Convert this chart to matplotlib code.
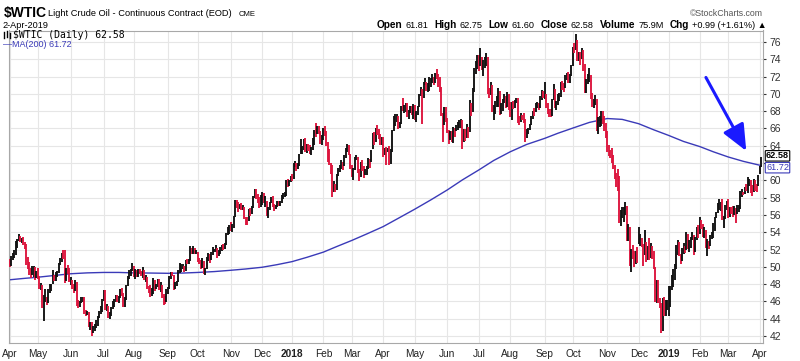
import numpy as np
import matplotlib
matplotlib.use("Agg")
import matplotlib.pyplot as plt
from matplotlib.lines import Line2D

plt.rcParams['font.family'] = ['Liberation Sans', 'DejaVu Sans']

# x axis: one label per month, trading days in each month
month_labels = ['Apr', 'May', 'Jun', 'Jul', 'Aug', 'Sep', 'Oct', 'Nov', 'Dec',
                '2018', 'Feb', 'Mar', 'Apr', 'May', 'Jun', 'Jul', 'Aug', 'Sep', 'Oct', 'Nov', 'Dec',
                '2019', 'Feb', 'Mar', 'Apr']
days_per_month = [19, 22, 22, 20, 23, 20, 22, 21, 20,
                  21, 19, 21, 21, 22, 21, 21, 23, 19, 23, 21, 20,
                  21, 19, 21, 2]

prior_close = 50.60  # 31-Mar-2017

# daily closes / highs / lows, one line per month
close_2017 = [
    50.24, 51.03, 51.15, 51.70, 52.24, 53.08, 53.40, 53.11, 53.18, 52.65, 52.41, 50.44, 50.27, 49.62, 49.23, 49.56, 49.62, 48.97, 49.33,
    48.84, 47.66, 47.82, 45.52, 46.22, 46.43, 45.88, 47.33, 47.83, 47.84, 48.85, 48.66, 49.07, 49.35, 50.33, 50.73, 51.47, 51.36, 48.90, 49.80, 49.66, 48.32,
    48.36, 47.66, 47.40, 48.19, 45.72, 45.64, 45.83, 46.08, 46.46, 44.73, 44.46, 44.74, 43.20, 43.23, 42.53, 42.74, 43.01, 43.38, 44.24, 44.74, 44.93, 46.04,
    47.07, 45.13, 45.52, 44.23, 44.40, 45.04, 45.49, 46.08, 46.54, 46.02, 46.40, 47.12, 46.79, 45.77, 46.34, 47.89, 48.75, 49.04, 49.71, 50.17,
    49.16, 49.59, 49.03, 49.58, 49.39, 49.17, 49.56, 48.59, 48.82, 47.59, 47.55, 46.78, 47.09, 48.51, 47.37, 47.64, 48.41, 47.43, 47.87, 46.57, 46.44, 45.96, 47.23,
    47.29, 48.66, 49.16, 49.09, 47.48, 48.07, 48.23, 49.30, 49.89, 49.89, 49.91, 49.48, 50.69, 50.55, 50.66, 52.22, 51.88, 52.14, 51.56, 51.67,
    50.58, 50.42, 49.98, 50.79, 49.29, 49.58, 50.92, 51.30, 50.60, 51.45, 51.87, 51.88, 52.04, 51.29, 51.47, 51.90, 52.47, 52.18, 52.64, 53.90, 54.15, 54.38,
    54.30, 54.54, 55.64, 57.35, 57.20, 56.81, 57.17, 56.74, 56.76, 55.70, 55.33, 55.14, 56.55, 56.09, 56.83, 58.02, 58.95, 58.11, 57.99, 57.30, 57.40,
    58.36, 57.47, 57.62, 55.96, 56.69, 57.36, 57.99, 57.14, 56.60, 57.04, 57.30, 57.16, 57.46, 58.09, 58.36, 58.47, 59.97, 59.64, 59.84, 60.42,
]
high_2017 = [
    50.85, 51.20, 51.60, 51.95, 52.94, 53.24, 53.76, 53.59, 53.36, 53.49, 52.88, 52.59, 51.12, 50.54, 49.87, 50.07, 50.14, 49.95, 49.57,
    49.87, 48.96, 48.13, 47.90, 46.71, 47.42, 46.53, 47.49, 48.06, 48.06, 49.66, 49.04, 49.45, 49.55, 50.44, 50.99, 51.57, 51.95, 52.00, 49.87, 50.17, 49.86,
    48.88, 48.51, 48.01, 48.51, 48.29, 46.16, 46.10, 46.48, 46.55, 46.53, 45.06, 44.93, 44.79, 43.60, 43.59, 43.12, 43.33, 43.81, 44.35, 44.89, 45.45, 46.26,
    47.32, 47.37, 45.74, 45.47, 44.72, 45.38, 46.03, 46.26, 46.72, 46.78, 46.60, 47.40, 47.55, 46.96, 46.50, 47.94, 48.99, 49.65, 49.80, 50.43,
    50.05, 49.73, 49.66, 49.75, 49.76, 49.49, 49.98, 49.66, 49.04, 48.85, 47.80, 47.86, 47.50, 48.70, 48.50, 48.00, 48.59, 48.62, 48.20, 47.93, 46.81, 46.60, 47.39,
    47.64, 48.89, 49.42, 49.42, 49.11, 48.28, 48.39, 49.61, 50.45, 50.28, 50.30, 50.08, 50.74, 50.96, 50.88, 52.43, 52.18, 52.36, 52.23, 51.98,
    51.76, 50.99, 50.81, 51.04, 50.66, 49.91, 51.18, 51.59, 51.52, 51.67, 52.28, 52.04, 52.47, 52.16, 51.90, 52.24, 52.58, 52.69, 52.74, 53.94, 54.55, 54.87,
    55.22, 54.90, 55.87, 57.69, 57.69, 57.44, 57.30, 57.34, 57.18, 56.92, 55.75, 55.78, 56.72, 56.75, 57.07, 58.16, 59.05, 58.97, 58.39, 58.09, 58.25,
    58.71, 58.59, 58.19, 57.62, 56.87, 57.50, 58.13, 58.23, 57.26, 57.17, 57.60, 57.58, 57.61, 58.25, 58.52, 58.60, 60.08, 60.13, 60.07, 60.51,
]
low_2017 = [
    49.98, 50.04, 50.74, 51.06, 51.36, 52.18, 52.96, 52.82, 52.71, 52.49, 52.05, 50.25, 49.73, 49.02, 48.76, 49.11, 48.84, 48.50, 48.67,
    48.63, 47.45, 47.33, 45.28, 43.76, 45.90, 45.56, 45.87, 47.00, 47.17, 48.00, 48.40, 48.40, 48.85, 49.26, 50.18, 50.61, 50.91, 48.18, 48.33, 49.15, 48.23,
    47.87, 47.42, 46.98, 47.19, 45.44, 45.20, 45.35, 45.77, 45.88, 44.53, 44.36, 44.43, 43.01, 42.75, 42.05, 42.40, 42.62, 42.91, 43.17, 44.06, 44.53, 44.78,
    46.00, 44.98, 44.87, 44.04, 43.99, 44.34, 45.15, 45.36, 45.92, 45.96, 45.81, 46.43, 46.57, 45.40, 45.41, 46.15, 47.81, 48.63, 48.91, 49.50,
    48.88, 48.62, 48.86, 48.83, 49.12, 48.96, 48.67, 48.49, 48.23, 47.38, 46.97, 46.51, 46.58, 46.89, 47.25, 47.38, 47.61, 47.30, 47.08, 46.34, 45.58, 45.74, 45.95,
    46.88, 47.46, 48.60, 48.91, 47.31, 47.43, 47.75, 48.22, 49.31, 49.42, 49.80, 49.42, 49.46, 50.34, 50.32, 50.65, 51.53, 51.50, 51.46, 51.50,
    50.53, 50.27, 49.75, 49.89, 49.21, 49.11, 49.70, 50.71, 50.39, 50.76, 51.34, 51.68, 51.67, 51.07, 51.30, 51.47, 51.82, 51.91, 52.01, 52.58, 53.71, 53.80,
    54.16, 54.03, 54.45, 55.71, 56.76, 56.35, 56.66, 56.52, 56.54, 55.57, 54.85, 54.82, 55.29, 55.91, 56.16, 56.82, 57.91, 57.85, 57.34, 56.75, 56.88,
    57.15, 57.33, 56.93, 55.83, 55.70, 56.62, 57.33, 56.93, 56.45, 56.66, 56.97, 57.00, 56.98, 57.38, 57.90, 58.11, 58.19, 59.26, 59.37, 59.81,
]

close_2018 = [
    60.37, 61.63, 62.01, 61.44, 61.73, 62.96, 63.57, 63.80, 64.30, 63.73, 63.97, 63.95, 63.37, 63.57, 64.47, 65.61, 65.51, 66.14, 65.56, 64.50, 64.73,
    65.80, 65.45, 64.15, 63.39, 61.79, 61.15, 59.20, 59.29, 59.19, 60.60, 61.34, 61.68, 61.90, 61.68, 62.77, 63.55, 63.91, 63.01, 61.64,
    60.99, 61.25, 62.57, 62.60, 61.15, 60.12, 62.04, 61.36, 60.71, 60.96, 61.19, 62.34, 62.06, 63.40, 65.17, 64.30, 65.88, 65.55, 65.25, 64.38, 64.94,
    63.01, 63.51, 63.37, 63.54, 62.06, 63.42, 65.51, 66.82, 67.07, 67.39, 66.22, 66.52, 68.47, 68.29, 68.38, 68.64, 67.70, 68.05, 68.19, 68.10, 68.57,
    67.25, 67.93, 68.43, 69.72, 70.73, 69.06, 71.14, 71.36, 70.70, 70.96, 71.31, 71.49, 71.49, 71.28, 72.35, 72.13, 71.84, 70.71, 67.88, 66.73, 68.21, 67.04,
    65.81, 64.75, 65.52, 64.73, 65.95, 65.74, 66.10, 66.36, 66.64, 66.89, 65.06, 65.85, 65.07, 66.22, 65.54, 68.58, 68.08, 70.53, 72.76, 73.45, 74.15,
    73.94, 74.14, 72.94, 73.80, 73.85, 74.11, 70.38, 70.33, 71.01, 68.06, 68.08, 68.76, 69.46, 70.46, 67.89, 68.52, 69.30, 69.61, 68.69, 70.13, 68.76,
    67.66, 68.96, 68.49, 69.01, 69.17, 66.94, 66.81, 67.63, 67.20, 67.04, 65.01, 65.46, 65.91, 66.43, 67.35, 67.86, 67.83, 68.72, 68.87, 68.53, 69.51, 70.25, 69.80,
    69.87, 68.72, 67.77, 67.75, 67.54, 69.25, 70.37, 68.59, 68.99, 69.85, 69.85, 71.12, 70.80, 70.78, 72.08, 72.28, 71.57, 72.12, 73.25,
    75.30, 75.23, 76.41, 74.33, 74.34, 74.29, 74.96, 73.17, 70.97, 71.34, 71.78, 72.92, 69.75, 68.65, 69.12, 69.17, 66.43, 66.82, 67.33, 67.59, 67.04, 66.18, 65.31,
    63.69, 63.14, 63.10, 62.21, 61.67, 60.67, 60.19, 59.93, 55.69, 56.25, 56.46, 56.46, 57.20, 53.43, 54.63, 50.42, 51.63, 51.56, 50.29, 51.45, 50.93,
    52.95, 53.25, 52.89, 51.49, 52.61, 51.00, 51.65, 51.15, 52.58, 51.20, 49.88, 46.24, 47.20, 45.88, 45.59, 42.53, 46.22, 44.61, 45.33, 45.41,
]
high_2018 = [
    60.74, 61.95, 62.21, 62.04, 61.97, 63.08, 64.77, 64.00, 64.77, 64.89, 64.24, 64.22, 64.09, 63.82, 64.85, 65.83, 66.66, 66.31, 66.29, 65.65, 65.19,
    66.10, 66.30, 65.72, 64.46, 63.68, 61.96, 61.79, 59.95, 59.61, 60.75, 61.44, 61.75, 62.38, 62.13, 62.93, 63.73, 64.25, 64.09, 63.10,
    61.80, 61.43, 62.69, 62.94, 62.65, 61.30, 62.15, 62.33, 61.64, 61.32, 61.69, 62.53, 62.43, 63.54, 65.52, 65.54, 66.00, 66.45, 65.93, 65.34, 65.03,
    65.03, 63.73, 63.83, 63.79, 63.98, 63.64, 65.83, 67.45, 67.65, 67.70, 67.39, 66.70, 68.64, 69.56, 68.68, 68.98, 68.98, 68.14, 68.55, 68.63, 68.78,
    68.72, 68.07, 68.61, 69.97, 70.84, 70.59, 71.36, 71.89, 71.43, 71.21, 71.93, 71.84, 72.30, 71.95, 72.47, 72.83, 72.34, 71.91, 70.81, 67.78, 68.43, 68.47,
    67.26, 65.82, 65.76, 65.75, 66.18, 66.03, 66.43, 66.76, 67.00, 67.09, 67.03, 65.98, 65.92, 66.47, 66.15, 69.30, 68.91, 70.66, 72.96, 73.79, 74.46,
    74.50, 75.27, 74.22, 73.90, 74.21, 74.70, 74.25, 70.73, 71.34, 71.02, 68.76, 69.19, 69.73, 70.72, 70.35, 68.99, 69.40, 69.98, 69.81, 70.24, 70.00,
    69.07, 69.10, 69.18, 69.35, 69.49, 69.50, 67.40, 67.83, 67.58, 67.74, 67.12, 65.92, 66.09, 66.54, 67.46, 67.98, 68.39, 68.99, 69.10, 68.95, 69.72, 70.47, 70.29,
    71.40, 70.04, 68.99, 68.27, 68.25, 69.42, 71.10, 70.55, 69.20, 69.96, 70.12, 71.37, 71.46, 71.25, 72.23, 72.45, 72.56, 72.25, 73.36,
    75.41, 75.91, 76.90, 76.21, 74.80, 74.86, 75.35, 75.05, 73.49, 71.77, 72.26, 72.99, 72.21, 70.09, 69.36, 69.85, 69.42, 67.27, 67.46, 68.02, 68.07, 67.45, 66.66,
    65.66, 64.08, 63.50, 63.71, 62.91, 61.76, 60.87, 61.28, 60.48, 56.62, 56.92, 56.94, 57.50, 57.02, 55.00, 54.55, 52.07, 52.48, 51.79, 51.78, 52.28,
    54.55, 53.80, 53.37, 52.68, 54.22, 52.90, 52.43, 53.28, 52.79, 52.43, 51.83, 50.00, 48.53, 48.49, 46.39, 45.79, 46.38, 46.55, 46.22, 46.20,
]
low_2018 = [
    59.96, 60.21, 61.59, 61.11, 61.37, 61.63, 62.99, 63.02, 63.51, 63.25, 63.21, 63.34, 63.09, 62.96, 63.54, 64.09, 65.04, 65.38, 65.37, 64.16, 64.06,
    64.64, 65.13, 63.93, 62.11, 61.73, 60.76, 58.07, 58.69, 58.67, 58.93, 60.53, 61.01, 61.27, 61.20, 61.62, 62.62, 63.30, 62.88, 61.36,
    60.40, 60.08, 61.16, 62.30, 60.83, 59.95, 60.43, 61.13, 60.25, 60.66, 60.67, 61.35, 61.38, 62.12, 63.64, 64.11, 64.41, 65.21, 64.82, 64.14, 64.13,
    62.74, 62.89, 61.83, 63.24, 61.81, 61.94, 63.32, 65.65, 66.32, 66.74, 65.98, 66.01, 66.57, 68.03, 67.74, 67.95, 67.35, 67.07, 67.81, 67.59, 67.15,
    67.03, 66.79, 67.58, 68.44, 69.75, 66.46, 69.57, 70.97, 70.35, 70.23, 70.30, 70.76, 71.22, 71.05, 71.25, 71.69, 70.80, 70.19, 67.48, 64.43, 66.41, 66.71,
    65.53, 64.22, 64.65, 64.41, 64.37, 65.07, 65.72, 65.77, 66.03, 66.08, 63.59, 64.39, 64.55, 64.93, 64.86, 65.61, 67.40, 67.92, 70.20, 72.28, 72.82,
    72.61, 73.28, 72.72, 72.06, 72.94, 73.27, 69.97, 69.49, 69.83, 67.91, 67.03, 67.70, 68.45, 68.47, 67.57, 67.71, 67.97, 68.89, 68.40, 68.52, 68.15,
    67.30, 67.03, 68.20, 68.36, 68.98, 66.68, 66.40, 66.71, 67.02, 66.64, 64.43, 64.85, 65.37, 65.77, 66.36, 67.09, 67.43, 67.85, 68.39, 68.11, 68.40, 69.26, 69.54,
    69.45, 68.36, 67.72, 67.28, 67.30, 67.48, 69.24, 68.32, 68.15, 68.73, 69.16, 69.66, 70.49, 70.20, 70.70, 71.64, 71.28, 71.23, 72.03,
    73.19, 74.77, 75.11, 73.78, 73.85, 73.34, 74.03, 72.59, 70.13, 70.12, 71.13, 71.37, 69.46, 68.47, 68.32, 68.72, 65.74, 65.33, 66.16, 66.30, 66.54, 65.71, 64.85,
    63.27, 62.80, 62.55, 61.95, 61.26, 60.20, 59.26, 58.81, 55.06, 54.75, 55.65, 55.24, 56.03, 52.94, 53.03, 50.15, 49.41, 50.94, 50.03, 50.28, 50.47,
    52.61, 52.37, 52.34, 50.08, 51.35, 50.60, 50.78, 50.83, 51.00, 50.94, 49.71, 45.93, 45.82, 45.79, 45.19, 42.36, 42.55, 44.35, 44.37, 44.95,
]

close_2019 = [
    46.54, 47.09, 47.96, 48.52, 49.78, 52.36, 52.59, 51.59, 50.51, 52.11, 52.31, 52.07, 53.80, 52.57, 52.62, 53.13, 53.69, 51.99, 53.31, 54.23, 53.79,
    55.26, 54.56, 53.66, 54.01, 52.64, 52.72, 52.41, 53.10, 53.90, 54.41, 55.59, 56.09, 56.92, 56.96, 57.26, 55.48, 55.50, 56.94, 57.22,
    55.80, 56.59, 56.56, 56.22, 56.66, 56.07, 56.79, 56.87, 58.26, 58.61, 58.52, 59.09, 59.03, 59.83, 59.98, 59.04, 58.82, 59.94, 59.41, 59.30, 60.14,
    61.59, 62.58,
]
high_2019 = [
    47.78, 47.73, 49.03, 49.78, 50.31, 52.51, 53.08, 52.85, 51.51, 52.21, 52.75, 52.45, 54.00, 53.83, 53.08, 53.40, 54.02, 53.72, 53.48, 54.56, 54.79,
    55.75, 55.46, 54.94, 54.56, 54.26, 53.22, 53.02, 53.72, 54.05, 55.05, 55.79, 56.33, 57.41, 57.81, 57.55, 57.88, 55.83, 57.10, 57.65,
    57.88, 56.93, 56.96, 57.09, 57.01, 56.86, 57.19, 57.16, 58.74, 58.95, 58.69, 59.23, 59.57, 60.39, 60.13, 60.05, 59.52, 60.12, 60.05, 59.58, 60.66,
    61.68, 62.75,
]
low_2019 = [
    44.35, 45.35, 47.31, 47.62, 48.53, 49.75, 51.31, 51.27, 50.29, 50.64, 51.52, 51.58, 51.97, 52.06, 51.71, 52.18, 53.05, 51.33, 51.76, 53.13, 53.38,
    53.75, 54.33, 53.44, 53.31, 52.17, 51.23, 52.01, 52.38, 53.25, 53.38, 54.10, 55.61, 56.25, 56.57, 56.49, 55.38, 54.52, 55.51, 56.54,
    55.59, 55.73, 56.11, 55.73, 56.05, 55.07, 56.08, 56.38, 56.71, 58.09, 58.30, 58.37, 58.80, 58.58, 59.40, 58.56, 58.16, 58.63, 58.81, 58.60, 59.31,
    60.71, 61.60,
]

# 200-day moving average: (month start, mid-month) pairs, Apr-2017 .. Mar-2019
ma200_half_month = [
    48.5, 48.65, 48.8, 49.0, 49.2, 49.3, 49.35, 49.35, 49.3, 49.28, 49.25, 49.28,
    49.35, 49.45, 49.6, 49.75, 49.95, 50.25,
    50.6, 51.1, 51.7, 52.35, 53.05, 53.8, 54.65, 55.6, 56.65, 57.75, 58.9, 60.05,
    61.2, 62.3, 63.3, 64.15, 64.85, 65.45, 66.05, 66.7, 67.15, 67.05, 66.55, 65.85,
    65.2, 64.5, 63.9, 63.3, 62.7, 62.2,
]
ma200_apr1 = 61.75
ma200_last = 61.72

header_items = [('Open', '61.81'), ('High', '62.75'), ('Low', '61.60'), ('Close', '62.58'),
                ('Volume', '75.9M'), ('Chg', '+0.99 (+1.61%) \u25b2')]

W, H = 800, 361
BLUE = '#3a3ab8'


def fx(px):
    return px / W


def fy(py):
    return 1 - py / H


close = np.array(close_2017 + close_2018 + close_2019)
high = np.array(high_2017 + high_2018 + high_2019)
low = np.array(low_2017 + low_2018 + low_2019)
lens = [len(a) for a in (close_2017, high_2017, low_2017, close_2018, high_2018, low_2018,
                         close_2019, high_2019, low_2019)]
assert len(close) == len(high) == len(low) == sum(days_per_month), lens

x = np.arange(len(close))
prev = np.concatenate([[prior_close], close[:-1]])
bar_colors = np.where(close < prev, '#dc143c', '#111111')
month_starts = np.concatenate([[0], np.cumsum(days_per_month)[:-1]])

fig = plt.figure(figsize=(8, 3.61), dpi=100)
left, right, top, bottom = 9, 763, 30.5, 343
ax = fig.add_axes([fx(left), fy(bottom), fx(right - left), (bottom - top) / H])
ax.set_xlim(-0.4, 504.2)
ax.set_ylim(41.19, 77.33)

ax.set_xticks(month_starts)
ax.set_xticklabels(month_labels)
for lab in ax.get_xticklabels():
    if lab.get_text().isdigit():
        lab.set_fontweight('bold')
        lab.set_fontsize(8)
yt = np.arange(42, 77, 2)
ax.set_yticks(yt)
ax.set_yticklabels(['' if v == 62 else str(v) for v in yt])
ax.yaxis.tick_right()
ax.tick_params(axis='x', labelsize=7.3, length=0, pad=4, colors='#222222')
ax.tick_params(axis='y', labelsize=7.5, length=2, pad=2.5, colors='#333333')
ax.grid(True, color='#e6e6e6', lw=0.8)
ax.set_axisbelow(True)
for s in ax.spines.values():
    s.set_color('#a8a8a8')
    s.set_linewidth(0.8)

# price bars and moving average
ax.vlines(x, low, high, colors=bar_colors, lw=1.35, zorder=3)
ma_x = []
for s, d in zip(month_starts[:-1], days_per_month[:-1]):
    ma_x += [s, s + d // 2]
ma_x += [month_starts[-1], len(close) - 1]
ma_y = ma200_half_month + [ma200_apr1, ma200_last]
ax.plot(ma_x, ma_y, color=BLUE, lw=1.0, zorder=2)

# last value tags on the right
ytr = ax.get_yaxis_transform()
ax.annotate('%.2f' % ma200_last, xy=(1.004, ma200_last), xycoords=ytr,
            xytext=(0, -1.6), textcoords='offset points', ha='left', va='center',
            fontsize=6.6, color=BLUE, annotation_clip=False, zorder=10,
            bbox=dict(boxstyle='round,pad=0.08', fc='white', ec=BLUE, lw=0.8))
ax.annotate('%.2f' % close[-1], xy=(1.004, close[-1]), xycoords=ytr,
            xytext=(0, 1.6), textcoords='offset points', ha='left', va='center',
            fontsize=6.6, fontweight='bold', color='black', annotation_clip=False, zorder=11,
            bbox=dict(boxstyle='round,pad=0.08', fc='white', ec='black', lw=0.8))

# annotation arrow
ax.annotate('', xy=(493, 63.4), xytext=(466, 71.9),
            arrowprops=dict(arrowstyle='-|>,head_length=1.6,head_width=0.7',
                            color='#1a1aff', lw=2.2, mutation_scale=10, shrinkA=0, shrinkB=0),
            zorder=12)

# legend inside the plot
fig.add_artist(Line2D([fx(4), fx(4)], [fy(32), fy(38)], color='black', lw=1.0))
fig.add_artist(Line2D([fx(7), fx(7)], [fy(31), fy(37)], color='black', lw=1.0))
fig.add_artist(Line2D([fx(10), fx(10)], [fy(33), fy(38)], color='black', lw=1.0))
fig.text(fx(13), fy(35.5), '$WTIC (Daily) %.2f' % close[-1], family='DejaVu Sans Mono',
         fontsize=7, va='center', ha='left', parse_math=False)
fig.text(fx(3), fy(44.5), '\u2014MA(200) %.2f' % ma200_last, fontsize=6.5, color=BLUE,
         va='center', ha='left')

# header
fig.text(fx(4), fy(13), '$WTIC', fontsize=10, fontweight='bold', va='center', parse_math=False)
fig.text(fx(48), fy(13.5), 'Light Crude Oil - Continuous Contract (EOD)', fontsize=6.7, va='center')
fig.text(fx(239), fy(14), 'CME', fontsize=5.5, va='center')
fig.text(fx(2), fy(25), '2-Apr-2019', fontsize=6.6, va='center')
fig.text(fx(763), fy(13.5), '\u00a9StockCharts.com', fontsize=6.3, color='#555555',
         va='center', ha='right')

renderer = fig.canvas.get_renderer()
cx = 377
for lab, val in header_items:
    t = fig.text(fx(cx), fy(25), lab, fontsize=7.2, fontweight='bold', va='center')
    cx = t.get_window_extent(renderer).x1 + 3
    t = fig.text(fx(cx), fy(25), val, fontsize=6.6, va='center')
    cx = t.get_window_extent(renderer).x1 + 6

fig.savefig('out.png', dpi=100)
